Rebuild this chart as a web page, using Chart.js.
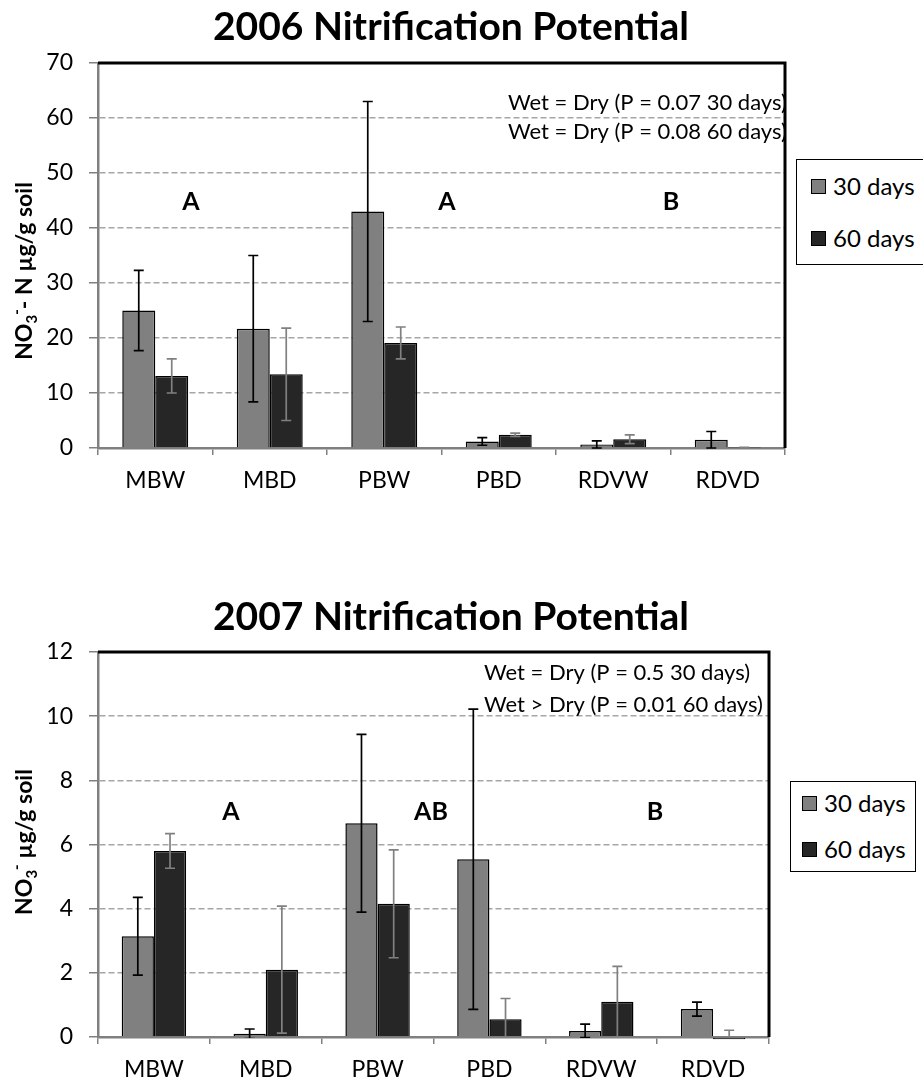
<!DOCTYPE html>
<html>
<head>
<meta charset="utf-8">
<script src="https://cdn.jsdelivr.net/npm/chart.js@4.4.1/dist/chart.umd.min.js"></script>
<style>
  body { margin: 0; background: #fff; font-family: Lato, sans-serif; }
  #wrap { position: relative; width: 923px; height: 1083px; overflow: hidden; }
  canvas { position: absolute; left: 0; }
  .legend { position: absolute; border: 1.5px solid #000; background: #fff; box-sizing: border-box; }
  .legend .sw { position: absolute; width: 15px; height: 15px; border: 1.5px solid #000; box-sizing: border-box; }
  .legend .lb { position: absolute; font-size: 24px; line-height: 24px; color: #000; white-space: nowrap; }
</style>
</head>
<body>
<div id="wrap">
  <canvas id="c2006" width="923" height="520" style="top:0"></canvas>
  <canvas id="c2007" width="923" height="563" style="top:520px"></canvas>

  <div class="legend" style="left:796px; top:159px; width:140px; height:106px;">
    <div class="sw" style="left:14px; top:19px; background:#808080"></div>
    <div class="lb" style="left:36px; top:14px;">30 days</div>
    <div class="sw" style="left:14px; top:71px; background:#262626"></div>
    <div class="lb" style="left:36px; top:66px;">60 days</div>
  </div>
  <div class="legend" style="left:790px; top:781px; width:126px; height:91px;">
    <div class="sw" style="left:11px; top:14px; background:#808080"></div>
    <div class="lb" style="left:33px; top:9px;">30 days</div>
    <div class="sw" style="left:11px; top:60px; background:#262626"></div>
    <div class="lb" style="left:33px; top:55px;">60 days</div>
  </div>
</div>
<script>
const categories = ['MBW', 'MBD', 'PBW', 'PBD', 'RDVW', 'RDVD'];
const seriesNames = ['30 days', '60 days'];

// 2006 means and standard errors
const np2006d30 = [25.0, 21.7, 43.0, 1.2, 0.65, 1.5];
const err2006d30 = [7.3, 13.3, 20.0, 0.7, 0.65, 1.5];
const np2006d60 = [13.1, 13.4, 19.1, 2.4, 1.6, 0.05];
const err2006d60 = [3.1, 8.4, 2.9, 0.3, 0.8, 0.05];

// 2007 means and standard errors
const np2007d30 = [3.14, 0.10, 6.66, 5.54, 0.19, 0.87];
const err2007d30 = [1.21, 0.15, 2.77, 4.68, 0.21, 0.22];
const np2007d60 = [5.80, 2.10, 4.15, 0.55, 1.10, -0.07];
const err2007d60 = [0.54, 1.98, 1.68, 0.65, 1.10, 0.28];

const yMax2006 = 70, yStep2006 = 10;
const yMax2007 = 12, yStep2007 = 2;

const FONT = 'Lato, "Open Sans", sans-serif';

// draws error bars, frame, titles, group letters and p-value notes
const decor = {
  id: 'decor',
  afterDatasetsDraw(chart) {
    const ctx = chart.ctx, ca = chart.chartArea, y = chart.scales.y;
    ctx.save();
    ctx.beginPath();
    ctx.rect(ca.left, ca.top - 2, ca.right - ca.left, ca.bottom - ca.top + 3);
    ctx.clip();
    chart.data.datasets.forEach((ds, i) => {
      const meta = chart.getDatasetMeta(i);
      ctx.strokeStyle = ds.errColor;
      ctx.lineWidth = 1.7;
      meta.data.forEach((bar, j) => {
        const v = ds.data[j], e = ds.errors[j];
        if (!e) return;
        const top = y.getPixelForValue(v + e);
        const bot = y.getPixelForValue(v - e);
        ctx.beginPath();
        ctx.moveTo(bar.x, top); ctx.lineTo(bar.x, bot);
        ctx.moveTo(bar.x - 5, top); ctx.lineTo(bar.x + 5, top);
        ctx.moveTo(bar.x - 5, bot); ctx.lineTo(bar.x + 5, bot);
        ctx.stroke();
      });
    });
    ctx.restore();
  },
  afterDraw(chart, args, o) {
    const ctx = chart.ctx, ca = chart.chartArea;
    ctx.save();
    // black frame on top and right
    ctx.strokeStyle = '#000';
    ctx.lineWidth = 3;
    ctx.beginPath();
    ctx.moveTo(ca.left, ca.top);
    ctx.lineTo(ca.right, ca.top);
    ctx.lineTo(ca.right, ca.bottom);
    ctx.stroke();

    ctx.fillStyle = '#000';
    ctx.textBaseline = 'middle';

    // title
    ctx.font = 'bold 39px ' + FONT;
    ctx.textAlign = 'center';
    ctx.fillText(o.title, o.titleX, o.titleY);

    // group letters
    ctx.font = 'bold 25px ' + FONT;
    o.letters.forEach(l => ctx.fillText(l.t, l.x, l.y));

    // p-value notes
    ctx.font = '22px ' + FONT;
    ctx.textAlign = 'left';
    o.notes.forEach(n => ctx.fillText(n.t, n.x, n.y));

    // rotated y axis title with sub/superscript
    ctx.translate(o.yTitleX, o.yTitleY);
    ctx.rotate(-Math.PI / 2);
    const big = 'bold 23px ' + FONT, small = 'bold 15px ' + FONT;
    let total = 0;
    o.yTitle.forEach(p => { ctx.font = p.off ? small : big; p.w = ctx.measureText(p.t).width; total += p.w; });
    let x = -total / 2;
    o.yTitle.forEach(p => {
      ctx.font = p.off ? small : big;
      ctx.fillText(p.t, x, p.off || 0);
      x += p.w;
    });
    ctx.restore();
  }
};

function makeChart(id, d30, e30, d60, e60, yMax, yStep, padding, decorOpts) {
  return new Chart(document.getElementById(id), {
    type: 'bar',
    data: {
      labels: categories,
      datasets: [
        { label: seriesNames[0], data: d30, errors: e30, errColor: '#000',
          backgroundColor: '#808080', borderColor: '#000', borderWidth: 1.5,
          categoryPercentage: 0.576, barPercentage: 1, clip: 4 },
        { label: seriesNames[1], data: d60, errors: e60, errColor: '#808080',
          backgroundColor: '#262626', borderColor: '#000', borderWidth: 1.5,
          categoryPercentage: 0.576, barPercentage: 1, clip: 4 }
      ]
    },
    options: {
      responsive: false,
      animation: false,
      layout: { padding: padding },
      plugins: {
        legend: { display: false },
        tooltip: { enabled: false },
        decor: decorOpts
      },
      scales: {
        x: {
          grid: { offset: true, drawOnChartArea: false, tickLength: 7, color: '#808080', lineWidth: 1.5 },
          border: { color: '#808080', width: 2.5 },
          ticks: { color: '#000', font: { family: FONT, size: 23 }, padding: 12 },
          afterFit: s => { s.height = 40; }
        },
        y: {
          min: 0, max: yMax,
          ticks: { stepSize: yStep, color: '#000', font: { family: FONT, size: 23 }, padding: 16 },
          grid: { color: '#a6a6a6', lineWidth: 1.5, tickLength: 9, tickColor: '#808080' },
          border: { color: '#808080', width: 2.5, dash: [6, 3] },
          afterFit: s => { s.width = 98; }
        }
      }
    },
    plugins: [decor]
  });
}

makeChart('c2006', np2006d30, err2006d30, np2006d60, err2006d60, yMax2006, yStep2006,
  { top: 63, right: 138, bottom: 32, left: 0 },
  {
    title: '2006 Nitrification Potential', titleX: 451, titleY: 27,
    letters: [{ t: 'A', x: 191, y: 202 }, { t: 'A', x: 447, y: 202 }, { t: 'B', x: 671, y: 202 }],
    notes: [{ t: 'Wet = Dry (P = 0.07 30 days)', x: 508, y: 103 },
            { t: 'Wet = Dry (P = 0.08 60 days)', x: 508, y: 132 }],
    yTitle: [{ t: 'NO' }, { t: '3', off: 7 }, { t: '-', off: -8 }, { t: '- N µg/g soil' }],
    yTitleX: 25, yTitleY: 271
  });

makeChart('c2007', np2007d30, err2007d30, np2007d60, err2007d60, yMax2007, yStep2007,
  { top: 132, right: 154, bottom: 6, left: 0 },
  {
    title: '2007 Nitrification Potential', titleX: 451, titleY: 97,
    letters: [{ t: 'A', x: 231, y: 292 }, { t: 'AB', x: 431, y: 292 }, { t: 'B', x: 655, y: 292 }],
    notes: [{ t: 'Wet = Dry (P = 0.5 30 days)', x: 484, y: 153 },
            { t: 'Wet > Dry (P = 0.01 60 days)', x: 484, y: 185 }],
    yTitle: [{ t: 'NO' }, { t: '3', off: 7 }, { t: '-', off: -8 }, { t: ' µg/g soil' }],
    yTitleX: 25, yTitleY: 322
  });
</script>
</body>
</html>
